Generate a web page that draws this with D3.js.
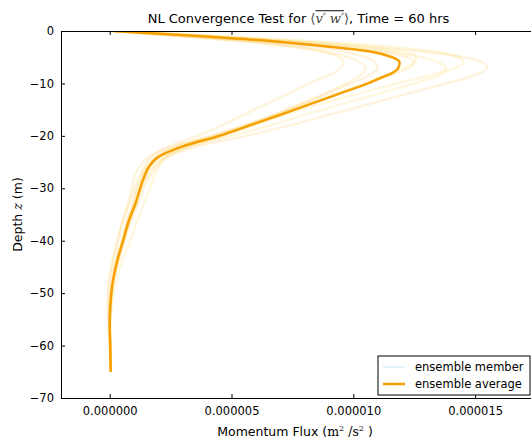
<!DOCTYPE html>
<html>
<head>
<meta charset="utf-8">
<script src="https://cdn.jsdelivr.net/npm/d3@7"></script>
<style>
  html, body { margin: 0; padding: 0; background: #fff; }
  text { font-family: "DejaVu Sans", sans-serif; }
</style>
</head>
<body>
<div id="chart"></div>
<script>
// ---------- data ----------
const depths = [0, -1, -2, -3, -4, -5, -6, -7, -8, -9, -10, -12, -14, -16, -18, -20, -22, -24, -26, -28, -30, -33, -36, -40, -44, -48, -52, -56, -60, -65];
// ensemble average (units of 1e-6 m^2/s^2)
const average = [0.15, 3.8, 6.8, 9.0, 10.8, 11.6, 11.9, 11.85, 11.6, 11.1, 10.6, 9.4, 8.2, 7.0, 5.75, 4.5, 3.0, 2.0, 1.6, 1.4, 1.25, 1.05, 0.8, 0.55, 0.3, 0.12, 0.03, 0.0, 0.02, 0.04];
const member1 = [0.2, 4.0, 7.5, 10.5, 13.0, 14.5, 15.3, 15.5, 15.2, 14.6, 13.8, 12.2, 10.6, 9.0, 7.4, 5.6, 3.6, 2.4, 1.9, 1.6, 1.4, 1.15, 0.9, 0.6, 0.35, 0.15, 0.05, 0.0, 0.02, 0.05];
const member2 = [0.1, 3.5, 6.5, 9.2, 11.5, 12.8, 13.5, 13.8, 13.7, 13.2, 12.5, 11.0, 9.5, 8.0, 6.6, 5.0, 3.3, 2.3, 1.8, 1.5, 1.3, 1.1, 0.85, 0.6, 0.35, 0.15, 0.05, 0.02, 0.03, 0.05];
const member3 = [0.15, 3.2, 5.8, 7.6, 8.8, 9.4, 9.6, 9.5, 9.2, 8.7, 8.2, 7.3, 6.4, 5.5, 4.6, 3.6, 2.4, 1.7, 1.4, 1.2, 1.0, 0.8, 0.55, 0.3, 0.1, -0.05, -0.08, -0.06, 0.0, 0.03];
const member4 = [0.2, 4.5, 8.0, 10.5, 12.0, 12.6, 12.5, 12.1, 11.6, 11.0, 10.4, 9.2, 8.0, 6.8, 5.6, 4.3, 2.7, 1.9, 1.5, 1.3, 1.15, 0.95, 0.75, 0.5, 0.25, 0.1, 0.02, 0.0, 0.02, 0.04];
const member5 = [0.1, 3.0, 6.0, 8.2, 9.7, 10.5, 10.9, 11.0, 10.8, 10.4, 9.9, 8.9, 7.8, 6.7, 5.5, 4.2, 2.8, 1.9, 1.5, 1.3, 1.1, 0.95, 0.7, 0.5, 0.25, 0.1, 0.02, -0.01, 0.01, 0.04];
const member6 = [0.25, 4.8, 8.5, 11.5, 13.5, 14.3, 14.5, 14.2, 13.5, 12.7, 11.8, 10.2, 8.6, 7.2, 5.9, 4.6, 3.1, 2.3, 2.0, 1.8, 1.65, 1.4, 1.15, 0.85, 0.5, 0.25, 0.1, 0.04, 0.04, 0.06];
const member7 = [0.1, 2.8, 5.4, 7.5, 8.9, 9.8, 10.3, 10.5, 10.4, 10.1, 9.7, 8.8, 7.8, 6.8, 5.8, 4.7, 3.3, 2.2, 1.7, 1.45, 1.25, 1.05, 0.8, 0.55, 0.3, 0.12, 0.03, 0.0, 0.01, 0.03];
const member8 = [0.15, 4.0, 7.2, 9.6, 11.3, 12.2, 12.5, 12.3, 11.8, 11.2, 10.6, 9.4, 8.1, 6.9, 5.6, 4.2, 2.6, 1.6, 1.2, 1.0, 0.9, 0.75, 0.55, 0.35, 0.15, 0.0, -0.05, -0.03, 0.02, 0.04];
const members = [member1, member2, member3, member4, member5, member6, member7, member8];
const memberColors = ["#ffa500", "#ffc000", "#ffb000", "#ffd000", "#ff9a00", "#ffc800", "#ffb800", "#ffa800"];
const xTicks = [0, 5e-6, 10e-6, 15e-6];
const xTickLabels = ["0.000000", "0.000005", "0.000010", "0.000015"];
const yTicks = [0, -10, -20, -30, -40, -50, -60, -70];
const legendLabels = ["ensemble member", "ensemble average"];

// ---------- layout ----------
const W = 531, H = 444;
const m = { left: 61, top: 31, right: 536, bottom: 398 };
const svg = d3.select("#chart").append("svg").attr("width", W).attr("height", H)
  .style("display", "block");

const x = d3.scaleLinear().domain([-2e-6, 1.75e-5]).range([m.left, m.right]);
const y = d3.scaleLinear().domain([0, -70]).range([m.top, m.bottom]);

svg.append("clipPath").attr("id", "plotclip").append("rect")
  .attr("x", m.left).attr("y", m.top).attr("width", m.right - m.left).attr("height", m.bottom - m.top);

const line = d3.line().x(d => x(d[0] * 1e-6)).y(d => y(d[1])).curve(d3.curveMonotoneY);

const plot = svg.append("g").attr("clip-path", "url(#plotclip)");
members.forEach((mem, i) => {
  plot.append("path")
    .attr("d", line(mem.map((v, k) => [v, depths[k]])))
    .attr("fill", "none").attr("stroke", memberColors[i])
    .attr("stroke-opacity", 0.13).attr("stroke-width", 2.5);
});
plot.append("path")
  .attr("d", line(average.map((v, k) => [v, depths[k]])))
  .attr("fill", "none").attr("stroke", "#f5a000").attr("stroke-width", 2.5);

// ---------- axes ----------
const gx = svg.append("g").attr("transform", `translate(0,${m.bottom})`)
  .call(d3.axisBottom(x).tickValues(xTicks).tickFormat((d, i) => xTickLabels[i]).tickSizeInner(-4).tickSizeOuter(0).tickPadding(9));
const gxTop = svg.append("g").attr("transform", `translate(0,${m.top})`)
  .call(d3.axisTop(x).tickValues(xTicks).tickFormat("").tickSizeInner(-4).tickSizeOuter(0));
const gy = svg.append("g").attr("transform", `translate(${m.left},0)`)
  .call(d3.axisLeft(y).tickValues(yTicks).tickFormat(d => d === 0 ? "0" : "\u2212" + Math.abs(d)).tickSizeInner(-4).tickSizeOuter(0).tickPadding(7));
const gyR = svg.append("g").attr("transform", `translate(${m.right},0)`)
  .call(d3.axisRight(y).tickValues(yTicks).tickFormat("").tickSizeInner(-4).tickSizeOuter(0));

[gx, gxTop, gy, gyR].forEach(g => {
  g.select(".domain").attr("stroke", "#000").attr("stroke-width", 1);
  g.selectAll(".tick line").attr("stroke", "#000");
  g.selectAll("text").attr("font-size", 11.5).attr("fill", "#000")
    .style("font-family", '"DejaVu Sans", sans-serif');
});
gx.selectAll("text").attr("dy", "0.71em");

// ---------- title ----------
const title = svg.append("text").attr("x", (m.left + m.right) / 2).attr("y", 23)
  .attr("text-anchor", "middle").attr("font-size", 13);
title.append("tspan").text("NL Convergence Test for ");
title.append("tspan").attr("font-family", "DejaVu Serif").attr("fill", "#444").text("\u27E8");
title.append("tspan").attr("font-family", "DejaVu Serif").attr("font-style", "italic").attr("fill", "#444")
  .style("text-decoration", "overline").text("v\u2032 w\u2032");
title.append("tspan").attr("font-family", "DejaVu Serif").attr("fill", "#444").text("\u27E9");
title.append("tspan").text(", Time = 60 hrs");

// ---------- axis labels ----------
const xl = svg.append("text").attr("x", 295).attr("y", 436).attr("text-anchor", "middle").attr("font-size", 12.5);
xl.append("tspan").text("Momentum Flux (");
xl.append("tspan").attr("font-family", "DejaVu Serif").text("m");
xl.append("tspan").attr("font-family", "DejaVu Serif").attr("font-size", 8).attr("dy", -5).text("2");
xl.append("tspan").attr("font-family", "DejaVu Serif").attr("dy", 5).text(" /s");
xl.append("tspan").attr("font-family", "DejaVu Serif").attr("font-size", 8).attr("dy", -5).text("2");
xl.append("tspan").attr("dy", 5).text(" )");

const yl = svg.append("text").attr("transform", `translate(22,${(m.top + m.bottom) / 2}) rotate(-90)`)
  .attr("text-anchor", "middle").attr("font-size", 12.5);
yl.append("tspan").text("Depth ");
yl.append("tspan").attr("font-family", "DejaVu Serif").attr("font-style", "italic").text("z");
yl.append("tspan").text(" (m)");

// ---------- legend ----------
const lg = svg.append("g");
lg.append("rect").attr("x", 378).attr("y", 356).attr("width", 152).attr("height", 39)
  .attr("fill", "#fff").attr("stroke", "#000").attr("stroke-width", 1);
const legColors = ["#dff3f8", "#f5a000"];
const legWidths = [2, 2.5];
legendLabels.forEach((lab, i) => {
  const yy = 367 + i * 17;
  lg.append("line").attr("x1", 383).attr("x2", 405).attr("y1", yy).attr("y2", yy)
    .attr("stroke", legColors[i]).attr("stroke-width", legWidths[i]);
  lg.append("text").attr("x", 415).attr("y", yy + 4).attr("font-size", 11.5).text(lab);
});
</script>
</body>
</html>
